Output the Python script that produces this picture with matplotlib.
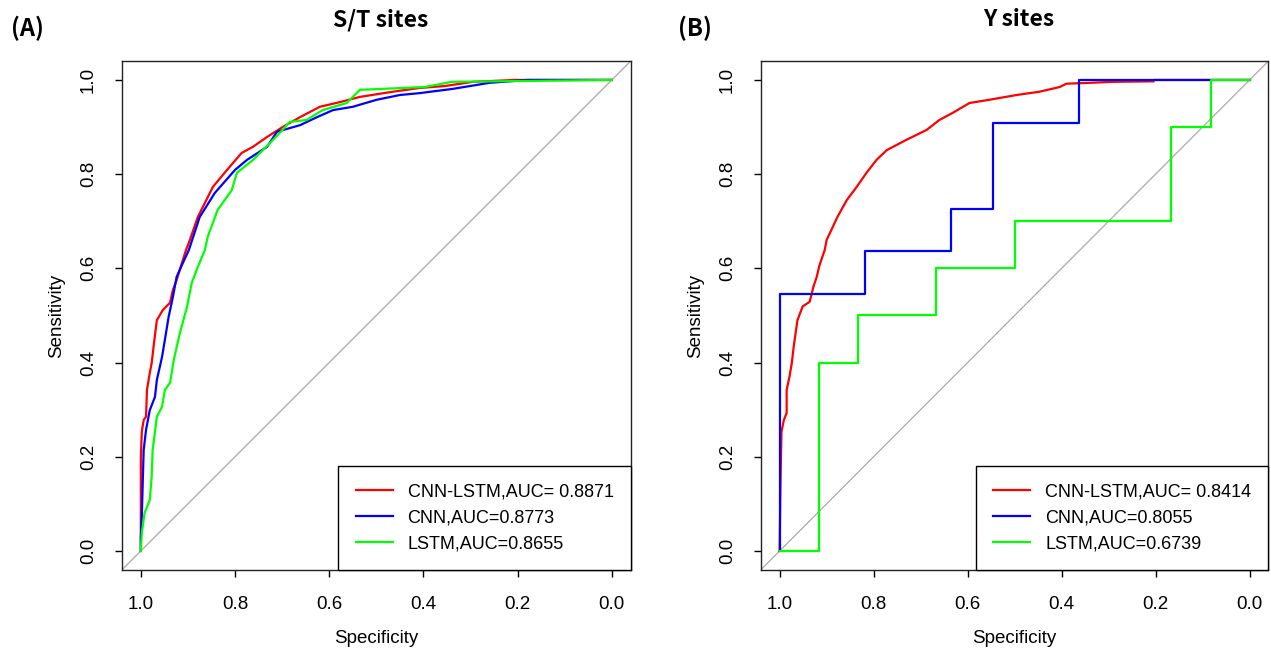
import matplotlib
matplotlib.use("Agg")
import matplotlib.pyplot as plt

# ---- data (specificity, sensitivity) ----
# Panel A: S/T sites
st_cnnlstm_spec = [1.0, 1.0, 1.0, 0.998, 0.994, 0.989, 0.987, 0.981, 0.977, 0.972, 0.966,
                   0.953, 0.938, 0.932, 0.924, 0.913, 0.904, 0.896, 0.879, 0.847, 0.817,
                   0.786, 0.762, 0.732, 0.699, 0.662, 0.620, 0.577, 0.535, 0.465, 0.408,
                   0.355, 0.295, 0.206, 0.0]
st_cnnlstm_sens = [0.0, 0.151, 0.197, 0.253, 0.278, 0.285, 0.342, 0.378, 0.399, 0.442, 0.490,
                   0.512, 0.527, 0.554, 0.575, 0.611, 0.639, 0.660, 0.709, 0.773, 0.809,
                   0.845, 0.858, 0.879, 0.900, 0.921, 0.943, 0.953, 0.964, 0.975, 0.983,
                   0.987, 0.996, 1.0, 1.0]

st_cnn_spec = [1.0, 1.0, 0.998, 0.996, 0.994, 0.989, 0.981, 0.970, 0.966, 0.955, 0.949,
               0.941, 0.932, 0.924, 0.911, 0.898, 0.875, 0.843, 0.800, 0.775, 0.732,
               0.711, 0.662, 0.626, 0.592, 0.550, 0.499, 0.450, 0.408, 0.338, 0.259,
               0.178, 0.0]
st_cnn_sens = [0.0, 0.030, 0.072, 0.144, 0.214, 0.257, 0.299, 0.327, 0.363, 0.412, 0.448,
               0.497, 0.539, 0.582, 0.611, 0.639, 0.709, 0.760, 0.809, 0.830, 0.858,
               0.890, 0.904, 0.921, 0.936, 0.943, 0.958, 0.968, 0.972, 0.981, 0.994,
               1.0, 1.0]

st_lstm_spec = [1.0, 0.998, 0.992, 0.981, 0.977, 0.975, 0.966, 0.955, 0.949, 0.938, 0.930,
                0.917, 0.902, 0.892, 0.879, 0.864, 0.858, 0.837, 0.807, 0.796, 0.762,
                0.726, 0.699, 0.684, 0.648, 0.614, 0.563, 0.535, 0.397, 0.340, 0.0]
st_lstm_sens = [0.0, 0.038, 0.081, 0.108, 0.157, 0.214, 0.285, 0.306, 0.342, 0.357, 0.406,
                0.463, 0.518, 0.569, 0.603, 0.639, 0.667, 0.724, 0.766, 0.803, 0.830,
                0.866, 0.894, 0.911, 0.915, 0.936, 0.951, 0.979, 0.985, 0.996, 1.0]

# Panel B: Y sites
y_cnnlstm_spec = [1.0, 0.998, 0.996, 0.991, 0.985, 0.985, 0.979, 0.974, 0.970, 0.964, 0.962,
                  0.951, 0.936, 0.928, 0.921, 0.915, 0.904, 0.900, 0.877, 0.857, 0.836,
                  0.815, 0.794, 0.772, 0.730, 0.687, 0.660, 0.632, 0.596, 0.553, 0.496,
                  0.447, 0.404, 0.390, 0.336, 0.291, 0.204, 0.204, 0.0]
y_cnnlstm_sens = [0.0, 0.151, 0.253, 0.278, 0.293, 0.342, 0.370, 0.399, 0.434, 0.476, 0.490,
                  0.519, 0.529, 0.561, 0.582, 0.607, 0.639, 0.660, 0.709, 0.745, 0.773,
                  0.803, 0.830, 0.851, 0.873, 0.894, 0.915, 0.930, 0.951, 0.958, 0.968,
                  0.975, 0.985, 0.992, 0.994, 0.996, 0.997, 1.0, 1.0]

y_cnn_spec = [1.0, 1.0, 0.818, 0.818, 0.636, 0.636, 0.545, 0.545, 0.364, 0.364, 0.0]
y_cnn_sens = [0.0, 0.545, 0.545, 0.636, 0.636, 0.727, 0.727, 0.909, 0.909, 1.0, 1.0]

y_lstm_spec = [1.0, 0.917, 0.917, 0.833, 0.833, 0.667, 0.667, 0.5, 0.5, 0.167, 0.167,
               0.083, 0.083, 0.0]
y_lstm_sens = [0.0, 0.0, 0.4, 0.4, 0.5, 0.5, 0.6, 0.6, 0.7, 0.7, 0.9, 0.9, 1.0, 1.0]

st_labels = ["CNN-LSTM,AUC= 0.8871", "CNN,AUC=0.8773", "LSTM,AUC=0.8655"]
y_labels = ["CNN-LSTM,AUC= 0.8414", "CNN,AUC=0.8055", "LSTM,AUC=0.6739"]
colors = ["#ff0000", "#0000ff", "#00ff00"]
ticks = [1.0, 0.8, 0.6, 0.4, 0.2, 0.0]
tick_labels = ["1.0", "0.8", "0.6", "0.4", "0.2", "0.0"]

plt.rcParams["font.family"] = ["Liberation Sans", "DejaVu Sans"]
TITLE_FONT = ["Noto Sans CJK SC", "DejaVu Sans"]

W, H = 1271, 652
fig = plt.figure(figsize=(W / 100, H / 100), dpi=100)
axA = fig.add_axes([122 / W, 1 - 569.8 / H, 508.7 / W, 508.7 / H])
axB = fig.add_axes([760.8 / W, 1 - 569.8 / H, 507.6 / W, 508.7 / H])


def draw_panel(ax, curves, labels, title, tag, tag_x):
    ax.axline((1, 0), (0, 1), color="#aaaaaa", lw=0.9, zorder=1)
    for (sp, se), c, lab in zip(curves, colors, labels):
        ax.plot(sp, se, color=c, lw=1.6, label=lab, zorder=2)
    ax.set_xlim(1.04, -0.04)
    ax.set_ylim(-0.04, 1.04)
    ax.set_xticks(ticks)
    ax.set_xticklabels(tick_labels, fontsize=13.5)
    ax.set_yticks(ticks)
    ax.set_yticklabels(tick_labels, fontsize=13.5, rotation=90, va="center")
    ax.tick_params(axis="both", length=5, width=1, color="black")
    ax.tick_params(axis="x", pad=14)
    ax.tick_params(axis="y", pad=13)
    for s in ax.spines.values():
        s.set_linewidth(1.0)
        s.set_color("#222222")
    ax.set_xlabel("Specificity", fontsize=13.5)
    ax.set_ylabel("Sensitivity", fontsize=13.5)
    ax.xaxis.label.set_va("center")
    ax.yaxis.label.set_va("center")
    ax.xaxis.set_label_coords(0.5, -0.136)
    ax.yaxis.set_label_coords(-0.128, 0.5)
    leg = ax.legend(loc="lower right", borderaxespad=0, fancybox=False,
                    edgecolor="black", framealpha=1, fontsize=13,
                    handlelength=2.05, handletextpad=0.83, labelspacing=0.5,
                    borderpad=0.95)
    leg.get_frame().set_linewidth(1.0)
    pos = ax.get_position()
    fig.text((pos.x0 + pos.x1) / 2 + 4 / W, 1 - 20 / H, title, ha="center", va="center",
             fontsize=16.5, fontweight="bold", family=TITLE_FONT)
    fig.text(tag_x, 1 - 28 / H, tag, ha="left", va="center",
             fontsize=17, fontweight="bold", family=TITLE_FONT)


draw_panel(axA, [(st_cnnlstm_spec, st_cnnlstm_sens), (st_cnn_spec, st_cnn_sens),
                 (st_lstm_spec, st_lstm_sens)], st_labels, "S/T sites", "(A)", 11 / W)
draw_panel(axB, [(y_cnnlstm_spec, y_cnnlstm_sens), (y_cnn_spec, y_cnn_sens),
                 (y_lstm_spec, y_lstm_sens)], y_labels, "Y sites", "(B)", 678 / W)

fig.savefig("out.png", dpi=100)
